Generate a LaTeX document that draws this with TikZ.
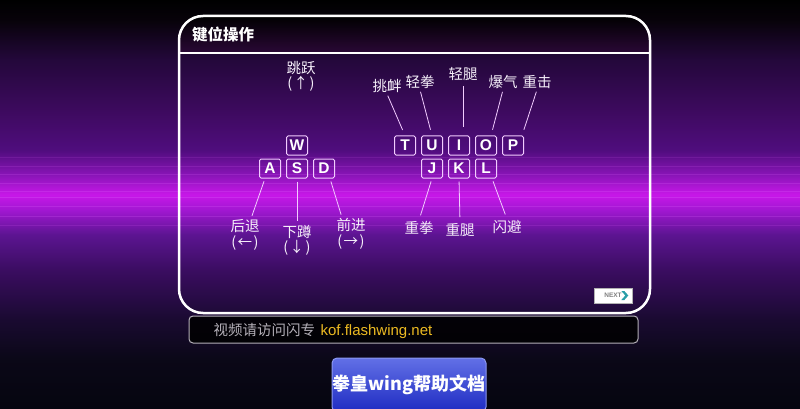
\documentclass[tikz,border=0pt]{standalone}
\usepackage{fontspec}
\setmainfont{Liberation Sans}
\newfontfamily\cjk{Noto Sans CJK SC}
\usetikzlibrary{positioning}

\definecolor{keyline}{HTML}{F2CCFF}
\definecolor{labeltext}{HTML}{F6F0FA}
\definecolor{streak}{HTML}{E46CFF}
\definecolor{headerbot}{HTML}{2A0836}
\definecolor{hintgray}{HTML}{B4B0B8}
\definecolor{linkgold}{HTML}{ECBA22}
\definecolor{btntop}{HTML}{6270E6}
\definecolor{btnbot}{HTML}{1E2BC2}
\definecolor{btnline}{HTML}{8C98F2}
\definecolor{nextarrow}{HTML}{2A9EA8}

\pgfdeclareverticalshading{kofbg}{100bp}{%
  rgb(0bp)=(0.02,0.02,0.06); rgb(25bp)=(0.02,0.02,0.06);
  rgb(31bp)=(0.04,0.03,0.09); rgb(35.9bp)=(0.10,0.04,0.19);
  rgb(42bp)=(0.23,0.05,0.38); rgb(46.3bp)=(0.36,0.08,0.57);
  rgb(49.3bp)=(0.63,0.09,0.82); rgb(51.2bp)=(0.78,0.09,0.91);
  rgb(53.6bp)=(0.54,0.08,0.72); rgb(56.7bp)=(0.31,0.05,0.49);
  rgb(61.5bp)=(0.24,0.04,0.37); rgb(67.7bp)=(0.14,0.03,0.23);
  rgb(72.5bp)=(0.03,0.01,0.04); rgb(75bp)=(0,0,0); rgb(100bp)=(0,0,0)}

\begin{document}
\begin{tikzpicture}[x=1pt, y=-1pt,
    key/.style={draw=keyline, line width=1pt, rounded corners=1.5pt,
      minimum width=21pt, minimum height=19pt, inner sep=0pt, text=white,
      font=\fontsize{15.5}{15.5}\selectfont\bfseries},
    tag/.style={text=labeltext, align=center, inner sep=1pt,
      font=\cjk\fontsize{14.5}{15.5}\selectfont},
    lead/.style={draw=keyline, line width=0.8pt},
    node distance=3pt and 5pt]
  \useasboundingbox (0,0) rectangle (800,409);
  \clip (0,0) rectangle (800,409);
  \shade[shading=kofbg] (0,0) rectangle (800,409);
  \foreach \yy/\op in {157/0.12, 166/0.15, 174/0.18, 183/0.2, 191/0.22,
                       197/0.25, 206/0.2, 216/0.2, 225/0.15}
    \draw[streak, opacity=\op, line width=0.8pt] (0,\yy) -- (800,\yy);

  % panel
  \begin{scope}
    \clip[rounded corners=24pt] (179,16) rectangle (650,313);
    \shade[top color=black, bottom color=headerbot] (179,16) rectangle (650,53);
  \end{scope}
  \draw[white, line width=2.5pt, rounded corners=24pt] (179,16) rectangle (650,313);
  \draw[white, line width=1.5pt] (179,53) -- (650,53);
  \node[anchor=west, text=white, inner sep=0pt,
    font=\cjk\fontsize{15.5}{15.5}\selectfont\bfseries] (title) at (192,35) {键位操作};

  % left hand
  \node[key] (kA) at (270,168.5) {A};
  \node[key, right=of kA] (kS) {S};
  \node[key, right=of kS] (kD) {D};
  \node[key, above=of kS] (kW) {W};

  \node[tag] (jump) at (301,76.5) {跳跃\\(\kern1.5pt↑\kern1.5pt)};
  \node[tag] (back) at (245,235) {后退\\(\kern1.5pt←\kern1.5pt)};
  \node[tag] (crouch) at (297,240.5) {下蹲\\(\kern1.5pt↓\kern1.5pt)};
  \node[tag] (fwd) at (351,234) {前进\\(\kern1.5pt→\kern1.5pt)};

  \draw[lead, shorten <=3pt, shorten >=3pt] ([xshift=-5pt]kA.south) -- ([xshift=6pt]back.north);
  \draw[lead, shorten <=3pt, shorten >=3pt] (kS.south) -- (crouch.north);
  \draw[lead, shorten <=3pt, shorten >=3pt] ([xshift=6pt]kD.south) -- ([xshift=-9pt]fwd.north);

  % right hand
  \node[key] (kT) at (405,145.5) {T};
  \node[key, right=of kT] (kU) {U};
  \node[key, right=of kU] (kI) {I};
  \node[key, right=of kI] (kO) {O};
  \node[key, right=of kO] (kP) {P};
  \node[key, below=of kU] (kJ) {J};
  \node[key, right=of kJ] (kK) {K};
  \node[key, right=of kK] (kL) {L};

  \node[tag] (taunt) at (387,86) {挑衅};
  \node[tag] (lpunch) at (420,82) {轻拳};
  \node[tag] (lkick) at (463,74) {轻腿};
  \node[tag] (burst) at (503,82) {爆气};
  \node[tag] (smash) at (537,82) {重击};
  \node[tag] (hpunch) at (419,228) {重拳};
  \node[tag] (hkick) at (460,230) {重腿};
  \node[tag] (dodge) at (507,227) {闪避};

  \draw[lead, shorten <=2pt, shorten >=6pt] (taunt.south) -- (kT.north);
  \draw[lead, shorten <=2pt, shorten >=6pt] (lpunch.south) -- (kU.north);
  \draw[lead, shorten <=4pt, shorten >=8pt] (lkick.south) -- (kI.north -| lkick.south);
  \draw[lead, shorten <=2pt, shorten >=6pt] (burst.south) -- ([xshift=5pt]kO.north);
  \draw[lead, shorten <=2pt, shorten >=6pt] (smash.south) -- ([xshift=-2pt]kP.north east);
  \draw[lead, shorten <=3pt, shorten >=5pt] (kJ.south) -- (hpunch.north);
  \draw[lead, shorten <=3pt, shorten >=5pt] (kK.south) -- (hkick.north);
  \draw[lead, shorten <=3pt, shorten >=5pt] ([xshift=6pt]kL.south) -- (dodge.north);

  % next button
  \node[fill=white, draw=black!30, line width=0.6pt, minimum width=38pt,
    minimum height=15pt, inner sep=0pt, text=black!50,
    font=\fontsize{6.5}{6.5}\selectfont\bfseries] (next) at (613,295.5) {NEXT\hspace{9pt}};
  \fill[nextarrow] ([shift={(-11,-4.5)}]next.east) -- ++(3,0) -- ++(4,4.5)
    -- ++(-4,4.5) -- ++(-3,0) -- ++(4,-4.5) -- cycle;

  % link bar
  \node[draw=hintgray, line width=1pt, rounded corners=4pt, fill=black, fill opacity=0.85,
    minimum width=449pt, minimum height=27pt, inner sep=0pt] (bar) at (413.5,329.5) {};
  \node[anchor=west, inner sep=0pt, text=hintgray,
    font=\cjk\fontsize{14.5}{14.5}\selectfont] (hint) at ([xshift=25pt]bar.west) {视频请访问闪专};
  \node[anchor=base west, inner sep=0pt, text=linkgold,
    font=\fontsize{15}{15}\selectfont] (link) at ([xshift=5pt]hint.base east) {kof.flashwing.net};

  % help button
  \node[draw=btnline, line width=1pt, rounded corners=5pt, top color=btntop,
    bottom color=btnbot, minimum width=154pt, minimum height=54pt, inner sep=0pt,
    text=white, font=\cjk\fontsize{18}{18}\selectfont\bfseries] (help) at (409,385) {拳皇wing帮助文档};
\end{tikzpicture}
\end{document}
